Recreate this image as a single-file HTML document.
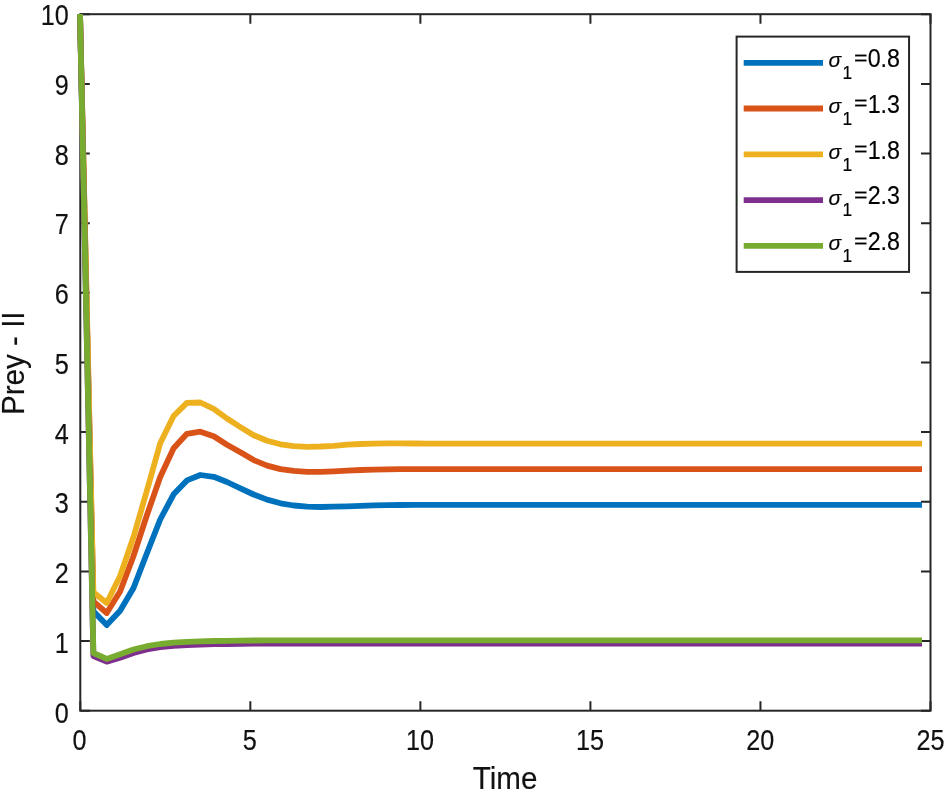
<!DOCTYPE html>
<html><head><meta charset="utf-8"><title>Prey - II</title>
<style>html,body{margin:0;padding:0;background:#fff}</style></head>
<body>
<svg width="944" height="799" viewBox="0 0 944 799" style="display:block">
<rect width="944" height="799" fill="#fff"/>
<g stroke="#262626" stroke-width="2" fill="none">
<rect x="80.3" y="14.2" width="850.20" height="696.50"/>
<path d="M80.30 710.7 v-9.5 M80.30 14.2 v9.5"/>
<path d="M250.34 710.7 v-9.5 M250.34 14.2 v9.5"/>
<path d="M420.38 710.7 v-9.5 M420.38 14.2 v9.5"/>
<path d="M590.42 710.7 v-9.5 M590.42 14.2 v9.5"/>
<path d="M760.46 710.7 v-9.5 M760.46 14.2 v9.5"/>
<path d="M930.50 710.7 v-9.5 M930.50 14.2 v9.5"/>
<path d="M80.3 710.7 h9.5 M930.5 710.7 h-9.5"/>
<path d="M80.3 641.1 h9.5 M930.5 641.1 h-9.5"/>
<path d="M80.3 571.4 h9.5 M930.5 571.4 h-9.5"/>
<path d="M80.3 501.8 h9.5 M930.5 501.8 h-9.5"/>
<path d="M80.3 432.1 h9.5 M930.5 432.1 h-9.5"/>
<path d="M80.3 362.5 h9.5 M930.5 362.5 h-9.5"/>
<path d="M80.3 292.8 h9.5 M930.5 292.8 h-9.5"/>
<path d="M80.3 223.2 h9.5 M930.5 223.2 h-9.5"/>
<path d="M80.3 153.5 h9.5 M930.5 153.5 h-9.5"/>
<path d="M80.3 83.9 h9.5 M930.5 83.9 h-9.5"/>
<path d="M80.3 14.2 h9.5 M930.5 14.2 h-9.5"/>
</g>
<g fill="none" stroke-width="5.8" stroke-linejoin="round" stroke-linecap="butt">
<polyline stroke="#0072BD" points="80.0,14.0 93.4,611.3 106.7,625.1 120.1,610.7 133.5,588.0 146.8,553.5 160.2,519.5 173.6,494.3 186.9,480.4 200.3,475.0 213.7,476.8 227.0,482.0 240.4,488.3 253.7,494.5 267.1,499.6 280.5,503.3 293.8,505.5 307.2,506.7 320.6,507.0 333.9,506.7 347.3,506.3 360.7,505.8 374.0,505.4 387.4,505.1 400.8,505.0 414.1,504.9 427.5,504.9 440.9,504.9 454.2,504.9 467.6,504.9 480.9,504.9 494.3,504.9 507.7,504.9 521.0,504.9 534.4,504.9 547.8,504.9 561.1,504.9 574.5,504.9 587.9,504.9 601.2,504.9 614.6,504.9 628.0,504.9 641.3,504.9 654.7,504.9 668.1,504.9 681.4,504.9 694.8,504.9 708.2,504.9 721.5,504.9 734.9,504.9 748.2,504.9 761.6,504.9 775.0,504.9 788.3,504.9 801.7,504.9 815.1,504.9 828.4,504.9 841.8,504.9 855.2,504.9 868.5,504.9 881.9,504.9 895.3,504.9 908.6,504.9 922.0,504.9"/>
<polyline stroke="#D95319" points="80.0,14.0 93.4,601.4 106.7,613.0 120.1,591.5 133.5,556.0 146.8,515.5 160.2,477.0 173.6,448.3 186.9,433.8 200.3,431.7 213.7,436.3 227.0,444.7 240.4,452.2 253.7,460.1 267.1,465.6 280.5,469.1 293.8,470.9 307.2,471.8 320.6,471.8 333.9,471.3 347.3,470.6 360.7,470.0 374.0,469.6 387.4,469.3 400.8,469.2 414.1,469.2 427.5,469.2 440.9,469.2 454.2,469.2 467.6,469.2 480.9,469.2 494.3,469.2 507.7,469.2 521.0,469.2 534.4,469.2 547.8,469.2 561.1,469.2 574.5,469.2 587.9,469.2 601.2,469.2 614.6,469.2 628.0,469.2 641.3,469.2 654.7,469.2 668.1,469.2 681.4,469.2 694.8,469.2 708.2,469.2 721.5,469.2 734.9,469.2 748.2,469.2 761.6,469.2 775.0,469.2 788.3,469.2 801.7,469.2 815.1,469.2 828.4,469.2 841.8,469.2 855.2,469.2 868.5,469.2 881.9,469.2 895.3,469.2 908.6,469.2 922.0,469.2"/>
<polyline stroke="#EDB120" points="80.0,14.0 93.4,592.3 106.7,603.0 120.1,576.0 133.5,537.0 146.8,491.0 160.2,443.3 173.6,416.0 186.9,402.9 200.3,402.5 213.7,408.8 227.0,418.5 240.4,427.1 253.7,435.3 267.1,440.8 280.5,444.3 293.8,446.2 307.2,446.8 320.6,446.5 333.9,445.8 347.3,444.7 360.7,444.0 374.0,443.6 387.4,443.4 400.8,443.4 414.1,443.5 427.5,443.6 440.9,443.7 454.2,443.7 467.6,443.7 480.9,443.7 494.3,443.7 507.7,443.7 521.0,443.7 534.4,443.7 547.8,443.7 561.1,443.7 574.5,443.7 587.9,443.7 601.2,443.7 614.6,443.7 628.0,443.7 641.3,443.7 654.7,443.7 668.1,443.7 681.4,443.7 694.8,443.7 708.2,443.7 721.5,443.7 734.9,443.7 748.2,443.7 761.6,443.7 775.0,443.7 788.3,443.7 801.7,443.7 815.1,443.7 828.4,443.7 841.8,443.7 855.2,443.7 868.5,443.7 881.9,443.7 895.3,443.7 908.6,443.7 922.0,443.7"/>
<polyline stroke="#7E2F8E" points="80.0,14.0 93.4,656.0 106.7,661.7 120.1,657.7 133.5,653.0 146.8,649.5 160.2,647.2 173.6,645.8 186.9,645.0 200.3,644.5 213.7,644.2 227.0,644.0 240.4,643.8 253.7,643.7 267.1,643.6 280.5,643.5 293.8,643.5 307.2,643.5 320.6,643.5 333.9,643.5 347.3,643.5 360.7,643.5 374.0,643.5 387.4,643.5 400.8,643.5 414.1,643.5 427.5,643.5 440.9,643.5 454.2,643.5 467.6,643.5 480.9,643.5 494.3,643.5 507.7,643.5 521.0,643.5 534.4,643.5 547.8,643.5 561.1,643.5 574.5,643.5 587.9,643.5 601.2,643.5 614.6,643.5 628.0,643.5 641.3,643.5 654.7,643.5 668.1,643.5 681.4,643.5 694.8,643.5 708.2,643.5 721.5,643.5 734.9,643.5 748.2,643.5 761.6,643.5 775.0,643.5 788.3,643.5 801.7,643.5 815.1,643.5 828.4,643.5 841.8,643.5 855.2,643.5 868.5,643.5 881.9,643.5 895.3,643.5 908.6,643.5 922.0,643.5"/>
<polyline stroke="#77AC30" points="80.0,14.0 93.4,653.0 106.7,658.9 120.1,654.3 133.5,649.5 146.8,646.2 160.2,644.0 173.6,642.6 186.9,641.8 200.3,641.3 213.7,641.0 227.0,640.8 240.4,640.6 253.7,640.5 267.1,640.4 280.5,640.3 293.8,640.3 307.2,640.3 320.6,640.3 333.9,640.3 347.3,640.3 360.7,640.3 374.0,640.3 387.4,640.3 400.8,640.3 414.1,640.3 427.5,640.3 440.9,640.3 454.2,640.3 467.6,640.3 480.9,640.3 494.3,640.3 507.7,640.3 521.0,640.3 534.4,640.3 547.8,640.3 561.1,640.3 574.5,640.3 587.9,640.3 601.2,640.3 614.6,640.3 628.0,640.3 641.3,640.3 654.7,640.3 668.1,640.3 681.4,640.3 694.8,640.3 708.2,640.3 721.5,640.3 734.9,640.3 748.2,640.3 761.6,640.3 775.0,640.3 788.3,640.3 801.7,640.3 815.1,640.3 828.4,640.3 841.8,640.3 855.2,640.3 868.5,640.3 881.9,640.3 895.3,640.3 908.6,640.3 922.0,640.3"/>
</g>
<g font-family="'Liberation Sans', sans-serif">
<text transform="translate(79.50,750.30) scale(1,1.2)" font-size="25.2" text-anchor="middle" fill="#111" stroke="#111" stroke-width="0.15">0</text>
<text transform="translate(249.70,750.30) scale(1,1.2)" font-size="25.2" text-anchor="middle" fill="#111" stroke="#111" stroke-width="0.15">5</text>
<text transform="translate(419.90,750.30) scale(1,1.2)" font-size="25.2" text-anchor="middle" fill="#111" stroke="#111" stroke-width="0.15">10</text>
<text transform="translate(590.10,750.30) scale(1,1.2)" font-size="25.2" text-anchor="middle" fill="#111" stroke="#111" stroke-width="0.15">15</text>
<text transform="translate(760.30,750.30) scale(1,1.2)" font-size="25.2" text-anchor="middle" fill="#111" stroke="#111" stroke-width="0.15">20</text>
<text transform="translate(930.50,750.30) scale(1,1.2)" font-size="25.2" text-anchor="middle" fill="#111" stroke="#111" stroke-width="0.15">25</text>
<text transform="translate(68.80,722.50) scale(1,1.2)" font-size="25.2" text-anchor="end" fill="#111" stroke="#111" stroke-width="0.15">0</text>
<text transform="translate(68.80,652.77) scale(1,1.2)" font-size="25.2" text-anchor="end" fill="#111" stroke="#111" stroke-width="0.15">1</text>
<text transform="translate(68.80,583.04) scale(1,1.2)" font-size="25.2" text-anchor="end" fill="#111" stroke="#111" stroke-width="0.15">2</text>
<text transform="translate(68.80,513.31) scale(1,1.2)" font-size="25.2" text-anchor="end" fill="#111" stroke="#111" stroke-width="0.15">3</text>
<text transform="translate(68.80,443.58) scale(1,1.2)" font-size="25.2" text-anchor="end" fill="#111" stroke="#111" stroke-width="0.15">4</text>
<text transform="translate(68.80,373.85) scale(1,1.2)" font-size="25.2" text-anchor="end" fill="#111" stroke="#111" stroke-width="0.15">5</text>
<text transform="translate(68.80,304.12) scale(1,1.2)" font-size="25.2" text-anchor="end" fill="#111" stroke="#111" stroke-width="0.15">6</text>
<text transform="translate(68.80,234.39) scale(1,1.2)" font-size="25.2" text-anchor="end" fill="#111" stroke="#111" stroke-width="0.15">7</text>
<text transform="translate(68.80,164.66) scale(1,1.2)" font-size="25.2" text-anchor="end" fill="#111" stroke="#111" stroke-width="0.15">8</text>
<text transform="translate(68.80,94.93) scale(1,1.2)" font-size="25.2" text-anchor="end" fill="#111" stroke="#111" stroke-width="0.15">9</text>
<text transform="translate(68.80,25.20) scale(1,1.2)" font-size="25.2" text-anchor="end" fill="#111" stroke="#111" stroke-width="0.15">10</text>
<text transform="translate(505.00,789.40) scale(1,1.08)" font-size="29.6" text-anchor="middle" fill="#111" stroke="#111" stroke-width="0.15">Time</text>
<text transform="translate(24.40,363.20) rotate(-90) scale(1,1.03)" font-size="29.6" text-anchor="middle" fill="#111" stroke="#111" stroke-width="0.15">Prey - II</text>
</g>
<rect x="736.6" y="36.6" width="172.45" height="235.3" fill="#fff" stroke="#262626" stroke-width="2"/>
<line x1="743.7" x2="823" y1="62.8" y2="62.8" stroke="#0072BD" stroke-width="5.8"/>
<g font-family="'Liberation Sans', sans-serif">
<text transform="translate(828.60,67.30) scale(1,1.0)" font-size="21" text-anchor="start" fill="#000" stroke="#000" stroke-width="0.15" font-style="italic">σ</text>
<text transform="translate(842.60,79.20) scale(1,1.07)" font-size="17.4" text-anchor="start" fill="#000" stroke="#000" stroke-width="0.15">1</text>
<text transform="translate(854.10,64.50) scale(1,0.847)" font-size="23.25" text-anchor="start" fill="#000" stroke="#000" stroke-width="0.15">=</text>
<text transform="translate(867.68,67.00) scale(1,1.07)" font-size="23.25" text-anchor="start" fill="#000" stroke="#000" stroke-width="0.15">0.8</text>
</g>
<line x1="743.7" x2="823" y1="108.5" y2="108.5" stroke="#D95319" stroke-width="5.8"/>
<g font-family="'Liberation Sans', sans-serif">
<text transform="translate(828.60,113.05) scale(1,1.0)" font-size="21" text-anchor="start" fill="#000" stroke="#000" stroke-width="0.15" font-style="italic">σ</text>
<text transform="translate(842.60,124.95) scale(1,1.07)" font-size="17.4" text-anchor="start" fill="#000" stroke="#000" stroke-width="0.15">1</text>
<text transform="translate(854.10,110.25) scale(1,0.847)" font-size="23.25" text-anchor="start" fill="#000" stroke="#000" stroke-width="0.15">=</text>
<text transform="translate(867.68,112.75) scale(1,1.07)" font-size="23.25" text-anchor="start" fill="#000" stroke="#000" stroke-width="0.15">1.3</text>
</g>
<line x1="743.7" x2="823" y1="154.3" y2="154.3" stroke="#EDB120" stroke-width="5.8"/>
<g font-family="'Liberation Sans', sans-serif">
<text transform="translate(828.60,158.80) scale(1,1.0)" font-size="21" text-anchor="start" fill="#000" stroke="#000" stroke-width="0.15" font-style="italic">σ</text>
<text transform="translate(842.60,170.70) scale(1,1.07)" font-size="17.4" text-anchor="start" fill="#000" stroke="#000" stroke-width="0.15">1</text>
<text transform="translate(854.10,156.00) scale(1,0.847)" font-size="23.25" text-anchor="start" fill="#000" stroke="#000" stroke-width="0.15">=</text>
<text transform="translate(867.68,158.50) scale(1,1.07)" font-size="23.25" text-anchor="start" fill="#000" stroke="#000" stroke-width="0.15">1.8</text>
</g>
<line x1="743.7" x2="823" y1="200.1" y2="200.1" stroke="#7E2F8E" stroke-width="5.8"/>
<g font-family="'Liberation Sans', sans-serif">
<text transform="translate(828.60,204.55) scale(1,1.0)" font-size="21" text-anchor="start" fill="#000" stroke="#000" stroke-width="0.15" font-style="italic">σ</text>
<text transform="translate(842.60,216.45) scale(1,1.07)" font-size="17.4" text-anchor="start" fill="#000" stroke="#000" stroke-width="0.15">1</text>
<text transform="translate(854.10,201.75) scale(1,0.847)" font-size="23.25" text-anchor="start" fill="#000" stroke="#000" stroke-width="0.15">=</text>
<text transform="translate(867.68,204.25) scale(1,1.07)" font-size="23.25" text-anchor="start" fill="#000" stroke="#000" stroke-width="0.15">2.3</text>
</g>
<line x1="743.7" x2="823" y1="245.8" y2="245.8" stroke="#77AC30" stroke-width="5.8"/>
<g font-family="'Liberation Sans', sans-serif">
<text transform="translate(828.60,250.30) scale(1,1.0)" font-size="21" text-anchor="start" fill="#000" stroke="#000" stroke-width="0.15" font-style="italic">σ</text>
<text transform="translate(842.60,262.20) scale(1,1.07)" font-size="17.4" text-anchor="start" fill="#000" stroke="#000" stroke-width="0.15">1</text>
<text transform="translate(854.10,247.50) scale(1,0.847)" font-size="23.25" text-anchor="start" fill="#000" stroke="#000" stroke-width="0.15">=</text>
<text transform="translate(867.68,250.00) scale(1,1.07)" font-size="23.25" text-anchor="start" fill="#000" stroke="#000" stroke-width="0.15">2.8</text>
</g>
</svg>
</body></html>
